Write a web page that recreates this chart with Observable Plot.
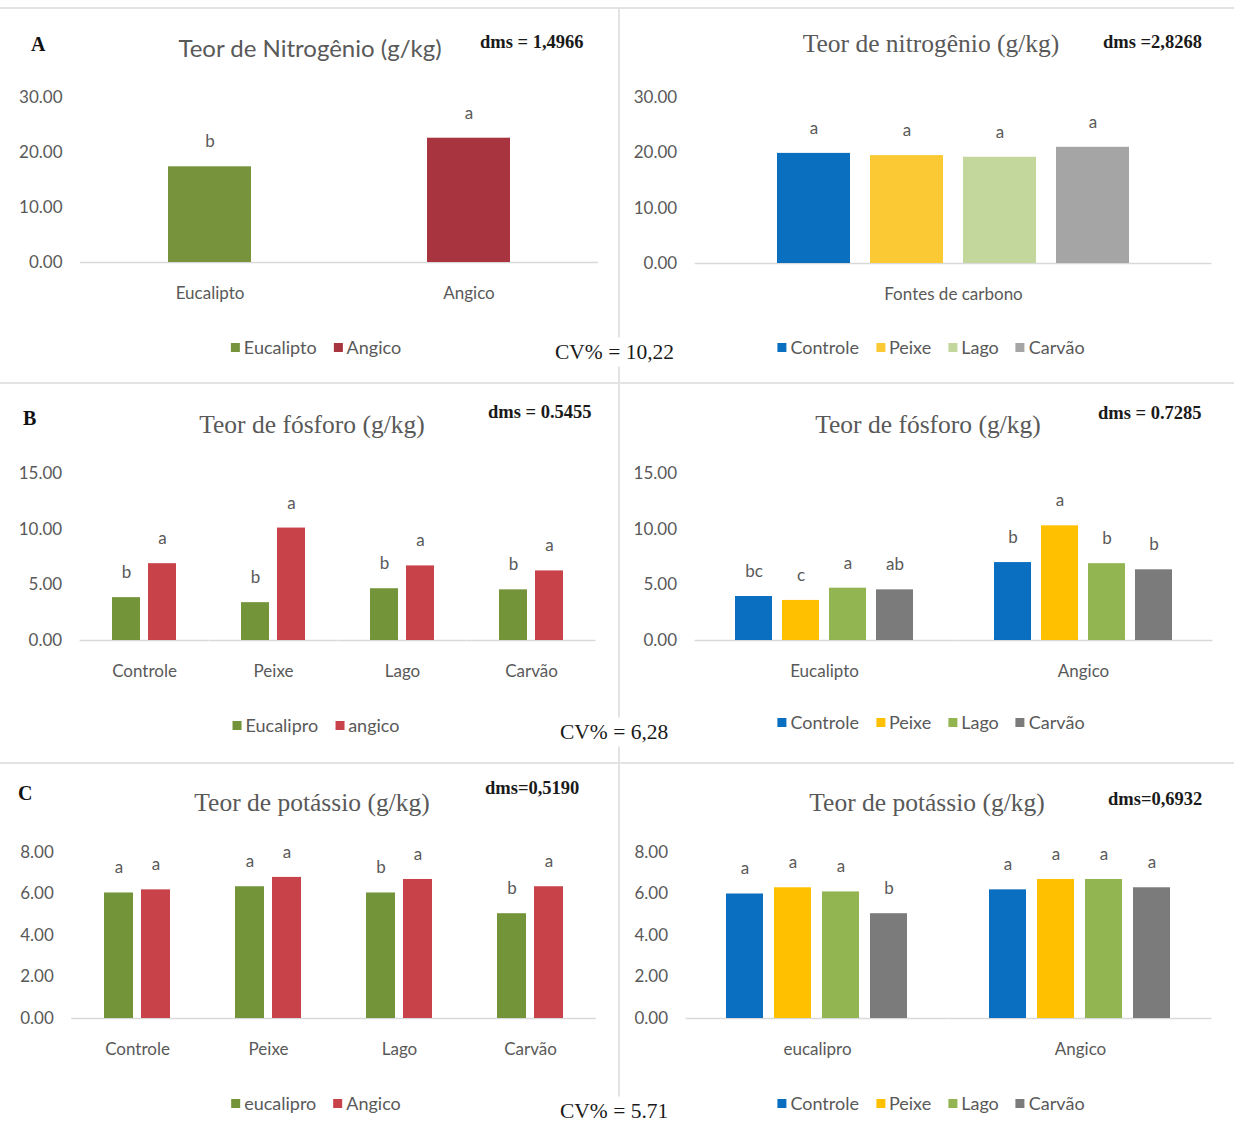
<!DOCTYPE html>
<html><head><meta charset="utf-8">
<script src="https://cdn.jsdelivr.net/npm/d3@7"></script>
<script src="https://cdn.jsdelivr.net/npm/@observablehq/plot@0.6"></script>
<style>
body{margin:0;background:#fff;}
#page{position:relative;width:1234px;height:1124px;overflow:hidden;background:#fff;font-family:Lato,sans-serif;}
.abs{position:absolute;white-space:nowrap;}
.ctr{transform:translate(-50%,-50%);}
.vmid{transform:translateY(-50%);}
.title{color:#595959;font-family:"Liberation Serif",serif;font-size:25.5px;}
.stitle{color:#595959;font-family:Lato,sans-serif;font-size:24px;}
.dms{color:#1a1a1a;font-family:"Liberation Serif",serif;font-size:18.5px;font-weight:bold;}
.cv{color:#1a1a1a;font-family:"Liberation Serif",serif;font-size:21.5px;background:#fff;padding:2px 0 2px 4px;}
.plab{color:#111;font-family:"Liberation Serif",serif;font-weight:bold;font-size:20px;}
.legend{color:#595959;font-family:Lato,sans-serif;font-size:18px;display:flex;align-items:center;}
.legend span.sw{display:inline-block;width:9px;height:9px;margin-right:4px;}
.legend span.it{display:inline-flex;align-items:center;margin-right:17px;}
.hline{position:absolute;left:0;width:1234px;height:2px;background:#e3e3e3;}
.vline{position:absolute;width:2px;background:#e3e3e3;}
.plot{position:absolute;}
</style></head>
<body><div id="page"></div>
<script>
// ---------- DATA ----------
const sources = ["Controle", "Peixe", "Lago", "Carvão"];

// A (left): nitrogen by species
const nSpecies = ["Eucalipto", "Angico"];
const nSpeciesValues = [17.4, 22.6];
const nSpeciesLetters = ["b", "a"];

// A (right): nitrogen by carbon source
const nSourceCategory = ["Fontes de carbono"];
const nSourceValues = [19.9, 19.5, 19.2, 21.0];
const nSourceLetters = ["a", "a", "a", "a"];

// B (left): phosphorus, sources x species
const pLeftSeries = ["Eucalipro", "angico"];
const pLeftEucalipto = [3.85, 3.4, 4.65, 4.55];
const pLeftAngico = [6.9, 10.1, 6.7, 6.25];
const pLeftEucaliptoLetters = ["b", "b", "b", "b"];
const pLeftAngicoLetters = ["a", "a", "a", "a"];

// B (right): phosphorus, species x sources
const pRightCategories = ["Eucalipto", "Angico"];
const pRightEucalipto = [3.95, 3.6, 4.7, 4.55];
const pRightAngico = [7.0, 10.3, 6.9, 6.35];
const pRightEucaliptoLetters = ["bc", "c", "a", "ab"];
const pRightAngicoLetters = ["b", "a", "b", "b"];

// C (left): potassium, sources x species
const kLeftSeries = ["eucalipro", "Angico"];
const kLeftEucalipto = [6.05, 6.35, 6.05, 5.05];
const kLeftAngico = [6.2, 6.8, 6.7, 6.35];
const kLeftEucaliptoLetters = ["a", "a", "b", "b"];
const kLeftAngicoLetters = ["a", "a", "a", "a"];

// C (right): potassium, species x sources
const kRightCategories = ["eucalipro", "Angico"];
const kRightEucalipto = [6.0, 6.3, 6.1, 5.05];
const kRightAngico = [6.2, 6.7, 6.7, 6.3];
const kRightEucaliptoLetters = ["a", "a", "a", "b"];
const kRightAngicoLetters = ["a", "a", "a", "a"];

// ticks
const ticksN = [0, 10, 20, 30];
const ticksP = [0, 5, 10, 15];
const ticksK = [0, 2, 4, 6, 8];

// texts
const titles = {
  nL: "Teor de Nitrogênio (g/kg)", nR: "Teor de nitrogênio  (g/kg)",
  pL: "Teor de fósforo  (g/kg)", pR: "Teor de fósforo  (g/kg)",
  kL: "Teor de potássio (g/kg)", kR: "Teor de potássio  (g/kg)"
};
const dmsTexts = {nL: "dms = 1,4966", nR: "dms =2,8268", pL: "dms =  0.5455", pR: "dms = 0.7285", kL: "dms=0,5190", kR: "dms=0,6932"};
const cvTexts = ["CV% = 10,22", "CV% = 6,28", "CV% = 5.71"];

// ---------- STYLES ----------
const speciesColorsA = ["#77933c", "#a8343f"];
const speciesColorsBC = ["#74943a", "#c8424a"];
const sourceColorsA = ["#0b6fc0", "#fbc933", "#c3d69b", "#a5a5a5"];
const sourceColorsBC = ["#0a6fc1", "#ffc000", "#92b552", "#7b7b7b"];

const page = document.getElementById("page");
function addDiv(cls, text, left, top, extra) {
  const d = document.createElement("div");
  d.className = "abs " + cls;
  d.textContent = text;
  d.style.left = left + "px";
  d.style.top = top + "px";
  if (extra) Object.assign(d.style, extra);
  page.appendChild(d);
  return d;
}
function addLegend(names, colors, cx, cy) {
  const d = document.createElement("div");
  d.className = "abs legend ctr";
  d.style.left = cx + "px"; d.style.top = cy + "px";
  names.forEach((n, i) => {
    const it = document.createElement("span"); it.className = "it";
    const sw = document.createElement("span"); sw.className = "sw"; sw.style.background = colors[i];
    it.appendChild(sw); it.appendChild(document.createTextNode(n));
    d.appendChild(it);
  });
  d.lastChild.style.marginRight = "0";
  page.appendChild(d);
}
function place(svg, left, top) {
  const w = document.createElement("div");
  w.className = "plot"; w.style.left = left + "px"; w.style.top = top + "px";
  w.appendChild(svg); page.appendChild(w);
}
const fmt = d3.format(".2f");
const baseStyle = {fontFamily: "Lato, sans-serif", fontSize: "17px", color: "#595959", background: "transparent", overflow: "visible"};

// separators
[7, 382, 762].forEach(y => { const l = document.createElement("div"); l.className = "hline"; l.style.top = y + "px"; page.appendChild(l); });
{ const v = document.createElement("div"); v.className = "vline"; v.style.left = "618px"; v.style.top = "8px"; v.style.height = "1116px"; page.appendChild(v); }

// ---------- PANEL A LEFT ----------
{
  const rows = nSpecies.map((s, i) => ({cat: s, v: nSpeciesValues[i], lab: nSpeciesLetters[i]}));
  const W = 615, mL = 80, mR = 17;
  const pad = 0.68;
  const svg = Plot.plot({
    width: W, height: 252, marginLeft: mL, marginRight: mR, marginTop: 37, marginBottom: 50,
    style: baseStyle,
    x: {domain: nSpecies, paddingInner: pad, paddingOuter: pad / 2, tickSize: 0, tickPadding: 24, label: null},
    y: {domain: [0, 30], ticks: ticksN, tickFormat: fmt, tickSize: 0, tickPadding: 18, label: null},
    color: {domain: nSpecies, range: speciesColorsA},
    marks: [
      Plot.ruleY([0], {stroke: "#d9d9d9", strokeWidth: 1.5}),
      Plot.barY(rows, {x: "cat", y: "v", fill: "cat"}),
      Plot.text(rows, {x: "cat", y: "v", text: "lab", dy: -25, fill: "#595959", fontSize: 17})
    ]
  });
  place(svg, 0, 60);
}

function grouped(o) {
  const rows = [];
  o.cats.forEach((c, i) => o.series.forEach((s, j) => rows.push({cat: c, ser: s, v: o.get(i, j), lab: o.lab(i, j)})));
  const step = (o.width - o.mL - o.mR) / o.cats.length;
  const ext = step * o.fxPad / 2;
  return Plot.plot({
    width: o.width, height: o.height, marginLeft: o.mL, marginRight: o.mR, marginTop: o.mT, marginBottom: o.mB,
    style: baseStyle,
    fx: {domain: o.cats, paddingInner: o.fxPad, paddingOuter: o.fxPad / 2, axis: "bottom", tickSize: 0, tickPadding: 24, label: null},
    x: {domain: o.series, paddingInner: o.xPad, paddingOuter: o.xPad / 2, axis: null},
    y: {domain: [0, o.yMax], ticks: o.ticks, tickFormat: fmt, tickSize: 0, tickPadding: 18 + ext, label: null},
    color: {domain: o.series, range: o.colors},
    marks: [
      Plot.ruleY([0], {stroke: "#d9d9d9", strokeWidth: 1.5, insetLeft: -ext, insetRight: -ext}),
      Plot.barY(rows, {fx: "cat", x: "ser", y: "v", fill: "ser"}),
      Plot.text(rows, {fx: "cat", x: "ser", y: "v", text: "lab", dy: -25, fill: "#595959", fontSize: 17})
    ]
  });
}

// ---------- PANEL A RIGHT ----------
place(grouped({
  cats: nSourceCategory, series: sources, colors: sourceColorsA,
  get: (i, j) => nSourceValues[j], lab: (i, j) => nSourceLetters[j],
  width: 614, height: 253, mL: 75, mR: 22, mT: 37, mB: 50, yMax: 30, ticks: ticksN,
  fxPad: 0.276, xPad: 0.22
}), 620, 60);

// ---------- PANEL B LEFT ----------
place(grouped({
  cats: sources, series: pLeftSeries, colors: speciesColorsBC,
  get: (i, j) => [pLeftEucalipto, pLeftAngico][j][i], lab: (i, j) => [pLeftEucaliptoLetters, pLeftAngicoLetters][j][i],
  width: 615, height: 250, mL: 80, mR: 19, mT: 33, mB: 50, yMax: 15, ticks: ticksP,
  fxPad: 0.44, xPad: 0.22
}), 0, 440);

// ---------- PANEL B RIGHT ----------
place(grouped({
  cats: pRightCategories, series: sources, colors: sourceColorsBC,
  get: (i, j) => [pRightEucalipto, pRightAngico][i][j], lab: (i, j) => [pRightEucaliptoLetters, pRightAngicoLetters][i][j],
  width: 614, height: 250, mL: 75, mR: 21, mT: 33, mB: 50, yMax: 15, ticks: ticksP,
  fxPad: 0.274, xPad: 0.21
}), 620, 440);

// ---------- PANEL C LEFT ----------
place(grouped({
  cats: sources, series: kLeftSeries, colors: speciesColorsBC,
  get: (i, j) => [kLeftEucalipto, kLeftAngico][j][i], lab: (i, j) => [kLeftEucaliptoLetters, kLeftAngicoLetters][j][i],
  width: 615, height: 248, mL: 70, mR: 19, mT: 32, mB: 50, yMax: 8, ticks: ticksK,
  fxPad: 0.437, xPad: 0.22
}), 0, 820);

// ---------- PANEL C RIGHT ----------
place(grouped({
  cats: kRightCategories, series: sources, colors: sourceColorsBC,
  get: (i, j) => [kRightEucalipto, kRightAngico][i][j], lab: (i, j) => [kRightEucaliptoLetters, kRightAngicoLetters][i][j],
  width: 614, height: 248, mL: 66, mR: 22, mT: 32, mB: 50, yMax: 8, ticks: ticksK,
  fxPad: 0.262, xPad: 0.22
}), 620, 820);

// ---------- TEXTS ----------
addDiv("plab vmid", "A", 31, 44);
addDiv("plab vmid", "B", 23, 418);
addDiv("plab vmid", "C", 18, 793);

addDiv("stitle ctr", titles.nL, 310, 47);
addDiv("title ctr", titles.nR, 931, 44);
addDiv("title ctr", titles.pL, 312, 425);
addDiv("title ctr", titles.pR, 928, 425);
addDiv("title ctr", titles.kL, 312, 803);
addDiv("title ctr", titles.kR, 927, 803);

addDiv("dms vmid", dmsTexts.nL, 480, 42);
addDiv("dms vmid", dmsTexts.nR, 1103, 42);
addDiv("dms vmid", dmsTexts.pL, 488, 412);
addDiv("dms vmid", dmsTexts.pR, 1098, 413);
addDiv("dms vmid", dmsTexts.kL, 485, 788);
addDiv("dms vmid", dmsTexts.kR, 1108, 799);

addDiv("cv vmid", cvTexts[0], 551, 352);
addDiv("cv vmid", cvTexts[1], 556, 732);
addDiv("cv vmid", cvTexts[2], 556, 1111);

addLegend(nSpecies, speciesColorsA, 316, 347);
addLegend(sources, sourceColorsA, 931, 347);
addLegend(pLeftSeries, speciesColorsBC, 316, 725);
addLegend(sources, sourceColorsBC, 931, 722);
addLegend(kLeftSeries, speciesColorsBC, 316, 1103);
addLegend(sources, sourceColorsBC, 931, 1103);
</script>
</body></html>
